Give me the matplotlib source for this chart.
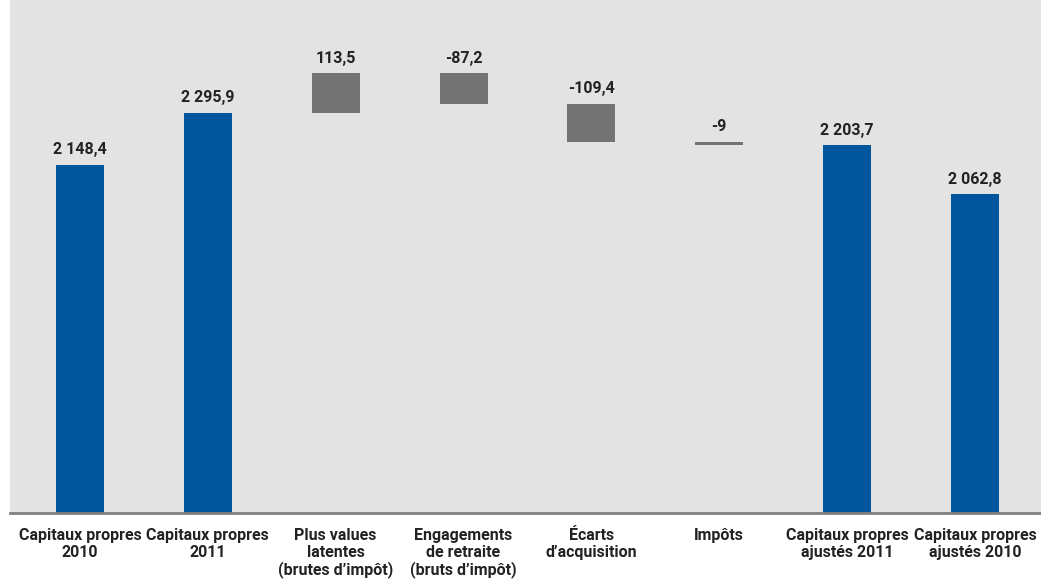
import numpy as np
import matplotlib
matplotlib.use('Agg')
import matplotlib.pyplot as plt

# equity bridge: opening totals, adjustments, closing totals
categories = ['Capitaux propres\n2010', 'Capitaux propres\n2011',
              'Plus values\nlatentes\n(brutes d\u2019imp\u00f4t)',
              'Engagements\nde retraite\n(bruts d\u2019imp\u00f4t)',
              '\u00c9carts\nd\u2019acquisition', 'Imp\u00f4ts',
              'Capitaux propres\najust\u00e9s 2011', 'Capitaux propres\najust\u00e9s 2010']
opening = [2148.4, 2295.9]
adjustments = [113.5, -87.2, -109.4, -9]
closing = [2203.7, 2062.8]

BLUE = '#00569c'
GREY = '#737373'
BG = '#e3e3e3'
TXT = '#222222'

plt.rcParams['font.family'] = ['Roboto', 'DejaVu Sans']


def fmt(v):
    s = ('{:,.1f}' if v % 1 else '{:,.0f}').format(v)
    return s.replace(',', ' ').replace('.', ',')


fig = plt.figure(figsize=(10.41, 5.79), dpi=100)
ax = fig.add_axes([10 / 1041, 66 / 579, 1 - 10 / 1041, 1 - 66 / 579])
ax.set_facecolor(BG)

x = np.arange(len(categories))
w = 0.375

# totals
tot_x = [0, 1, 6, 7]
tot_v = opening + closing
ax.bar(tot_x, tot_v, width=w, color=BLUE, zorder=2)
for xi, v in zip(tot_x, tot_v):
    ax.text(xi, v + 22, fmt(v), ha='center', va='bottom', fontsize=11.5,
            fontweight='bold', color=TXT)

# floating adjustment bars starting from the 2011 level
level = opening[-1]
for i, d in enumerate(adjustments):
    xi = 2 + i
    ax.bar(xi, d, bottom=level, width=w, color=GREY, zorder=2)
    top = max(level, level + d)
    ax.text(xi, top + 22, fmt(d), ha='center', va='bottom', fontsize=11.5,
            fontweight='bold', color=TXT)
    level += d

ax.set_ylim(1150, 2620)
ax.set_xlim(-0.547, 7.516)
ax.set_yticks([])
ax.set_xticks(x)
ax.set_xticklabels(categories, fontsize=11.5, fontweight='bold', color=TXT,
                   linespacing=1.12)
ax.tick_params(axis='x', length=0, pad=11)
for s in ['top', 'left', 'right']:
    ax.spines[s].set_visible(False)
ax.spines['bottom'].set_color('#808080')
ax.spines['bottom'].set_linewidth(2)

fig.savefig('out.png', dpi=100, facecolor='white')
